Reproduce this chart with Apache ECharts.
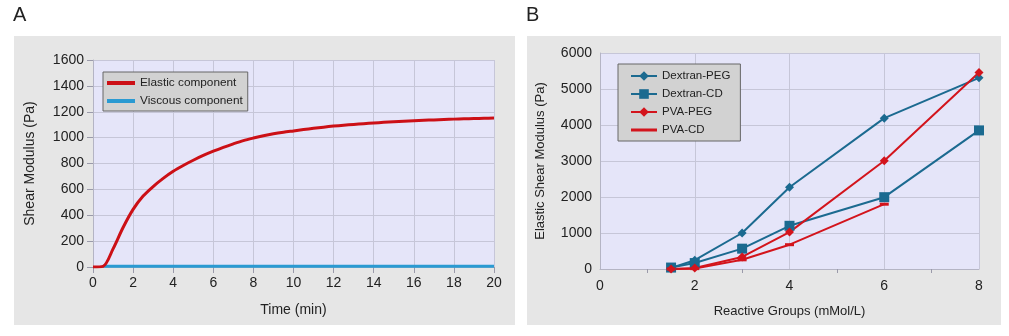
<!DOCTYPE html>
<html>
<head>
<meta charset="utf-8">
<script src="https://cdn.jsdelivr.net/npm/echarts@6/dist/echarts.min.js"></script>
<style>
  html, body { margin: 0; padding: 0; background: #ffffff; }
  #chart { width: 1009px; height: 336px; }
</style>
</head>
<body>
<div id="chart"></div>
<script>
// Panel A: gelation kinetics (shear modulus vs time), sampled every 0.5 min
const timeMin = [0, 0.5, 1, 1.5, 2, 2.5, 3, 3.5, 4, 4.5, 5, 5.5, 6, 6.5, 7, 7.5, 8, 8.5, 9, 9.5, 10, 10.5, 11, 11.5, 12, 12.5, 13, 13.5, 14, 14.5, 15, 15.5, 16, 16.5, 17, 17.5, 18, 18.5, 19, 19.5, 20];
const elastic = [0, 5, 140, 305, 445, 548, 622, 685, 740, 785, 825, 862, 895, 925, 952, 977, 997, 1015, 1030, 1042, 1052, 1062, 1072, 1081, 1089, 1096, 1102, 1108, 1113, 1118, 1122, 1127, 1131, 1134, 1137, 1140, 1143, 1145, 1147, 1149, 1152];
const viscousTime = [0.5, 2, 4, 6, 8, 10, 12, 14, 16, 18, 20];
const viscous = [5, 5, 5, 5, 5, 6, 5, 6, 5, 5, 6];

// Panel B: elastic modulus vs reactive group concentration
const groups = [1.5, 2, 3, 4, 6, 8];
const dextranPEG = [30, 245, 1000, 2270, 4190, 5310];
const dextranCD = [40, 165, 565, 1200, 1995, 3850];
const pvaPEG = [0, 30, 335, 1025, 3005, 5460];
const pvaCD = [0, 10, 255, 675, 1800, null];

const pairs = (xs, ys) => xs.map((x, i) => [x, ys[i]]).filter(p => p[1] !== null);

const FONT = 'Liberation Sans, Arial, sans-serif';
const plain = v => String(v);
const gridLine = { lineStyle: { color: '#c6c6d8', width: 1 } };
const axisLine = { show: true, lineStyle: { color: '#b4b4c4', width: 1 } };
const tick = { show: true, length: 6, lineStyle: { color: '#9a9aaa' } };
const tickLabel = { color: '#222', fontSize: 14, fontFamily: FONT, formatter: plain };
const lineIcon = 'path://M0,0L28,0L28,4L0,4Z';

const chart = echarts.init(document.getElementById('chart'), null, { renderer: 'canvas' });

chart.setOption({
  animation: false,
  backgroundColor: '#ffffff',
  graphic: [
    { type: 'rect', z: -10, shape: { x: 14, y: 36, width: 501, height: 289 }, style: { fill: '#e6e6e6' } },
    { type: 'rect', z: -10, shape: { x: 527, y: 36, width: 474, height: 289 }, style: { fill: '#e6e6e6' } },
    { type: 'text', left: 13, top: 5, style: { text: 'A', fontSize: 20, fontFamily: FONT, fill: '#222' } },
    { type: 'text', left: 526, top: 5, style: { text: 'B', fontSize: 20, fontFamily: FONT, fill: '#222' } }
  ],
  grid: [
    { left: 93, top: 60, width: 401, height: 207, show: true, backgroundColor: '#e5e5f9', borderWidth: 0 },
    { left: 600, top: 53, width: 379, height: 216, show: true, backgroundColor: '#e5e5f9', borderWidth: 0 }
  ],
  legend: [
    {
      left: 103, top: 72, orient: 'vertical',
      backgroundColor: '#d2d2d2', borderColor: '#666', borderWidth: 1,
      padding: [5, 5, 4, 4], itemGap: 6, itemWidth: 28, itemHeight: 12,
      textStyle: { color: '#222', fontSize: 11.8, fontFamily: FONT },
      data: [{ name: 'Elastic component', icon: lineIcon }, { name: 'Viscous component', icon: lineIcon }]
    },
    {
      left: 618, top: 64, orient: 'vertical',
      backgroundColor: '#d2d2d2', borderColor: '#666', borderWidth: 1,
      padding: [6, 10, 5, 12], itemGap: 6, itemWidth: 26, itemHeight: 12,
      textStyle: { color: '#222', fontSize: 11.5, fontFamily: FONT },
      data: ['Dextran-PEG', 'Dextran-CD', 'PVA-PEG',
        { name: 'PVA-CD', icon: 'path://M0,0L26,0L26,3L0,3Z' }]
    }
  ],
  xAxis: [
    {
      gridIndex: 0, type: 'value', min: 0, max: 20, interval: 2,
      name: 'Time (min)', nameLocation: 'middle', nameGap: 36,
      nameTextStyle: { color: '#222', fontSize: 14, fontFamily: FONT },
      axisLine: axisLine, axisTick: tick, axisLabel: Object.assign({}, tickLabel, { margin: 9 }),
      splitLine: Object.assign({ show: true }, gridLine)
    },
    {
      gridIndex: 1, type: 'value', min: 0, max: 8, interval: 2,
      name: 'Reactive Groups (mMol/L)', nameLocation: 'middle', nameGap: 36,
      nameTextStyle: { color: '#222', fontSize: 13, fontFamily: FONT },
      axisLine: axisLine, axisTick: { show: false }, axisLabel: Object.assign({}, tickLabel, { margin: 10 }),
      minorTick: { show: true, splitNumber: 2, length: 4, lineStyle: { color: '#9a9aaa' } },
      splitLine: Object.assign({ show: true }, gridLine)
    }
  ],
  yAxis: [
    {
      gridIndex: 0, type: 'value', min: 0, max: 1600, interval: 200,
      name: 'Shear Modulus (Pa)', nameLocation: 'middle', nameGap: 56,
      nameTextStyle: { color: '#222', fontSize: 14, fontFamily: FONT },
      axisLine: axisLine, axisTick: tick, axisLabel: Object.assign({}, tickLabel, { margin: 9 }),
      splitLine: Object.assign({ show: true }, gridLine)
    },
    {
      gridIndex: 1, type: 'value', min: 0, max: 6000, interval: 1000,
      name: 'Elastic Shear Modulus (Pa)', nameLocation: 'middle', nameGap: 53,
      nameTextStyle: { color: '#222', fontSize: 13, fontFamily: FONT },
      axisLine: axisLine, axisTick: { show: false }, axisLabel: Object.assign({}, tickLabel, { margin: 8 }),
      splitLine: Object.assign({ show: true }, gridLine)
    }
  ],
  series: [
    {
      name: 'Viscous component', type: 'line', xAxisIndex: 0, yAxisIndex: 0,
      data: pairs(viscousTime, viscous), showSymbol: false, symbol: 'none',
      lineStyle: { color: '#2a9ad2', width: 3 }, itemStyle: { color: '#2a9ad2' }
    },
    {
      name: 'Elastic component', type: 'line', xAxisIndex: 0, yAxisIndex: 0,
      data: pairs(timeMin, elastic), smooth: 0.3, showSymbol: false, symbol: 'none',
      lineStyle: { color: '#cc1016', width: 3, join: 'round' }, itemStyle: { color: '#cc1016' }
    },
    {
      name: 'Dextran-CD', type: 'line', xAxisIndex: 1, yAxisIndex: 1,
      data: pairs(groups, dextranCD), symbol: 'rect', symbolSize: 10,
      lineStyle: { color: '#1b6a90', width: 2 }, itemStyle: { color: '#1b6a90' }
    },
    {
      name: 'Dextran-PEG', type: 'line', xAxisIndex: 1, yAxisIndex: 1,
      data: pairs(groups, dextranPEG), symbol: 'diamond', symbolSize: 9,
      lineStyle: { color: '#1b6a90', width: 2 }, itemStyle: { color: '#1b6a90' }
    },
    {
      name: 'PVA-CD', type: 'line', xAxisIndex: 1, yAxisIndex: 1,
      data: pairs(groups, pvaCD), symbol: 'rect', symbolSize: [9, 3],
      lineStyle: { color: '#d3141c', width: 2 }, itemStyle: { color: '#d3141c' }
    },
    {
      name: 'PVA-PEG', type: 'line', xAxisIndex: 1, yAxisIndex: 1,
      data: pairs(groups, pvaPEG), symbol: 'diamond', symbolSize: 9,
      lineStyle: { color: '#d3141c', width: 2 }, itemStyle: { color: '#d3141c' }
    }
  ]
});
</script>
</body>
</html>
